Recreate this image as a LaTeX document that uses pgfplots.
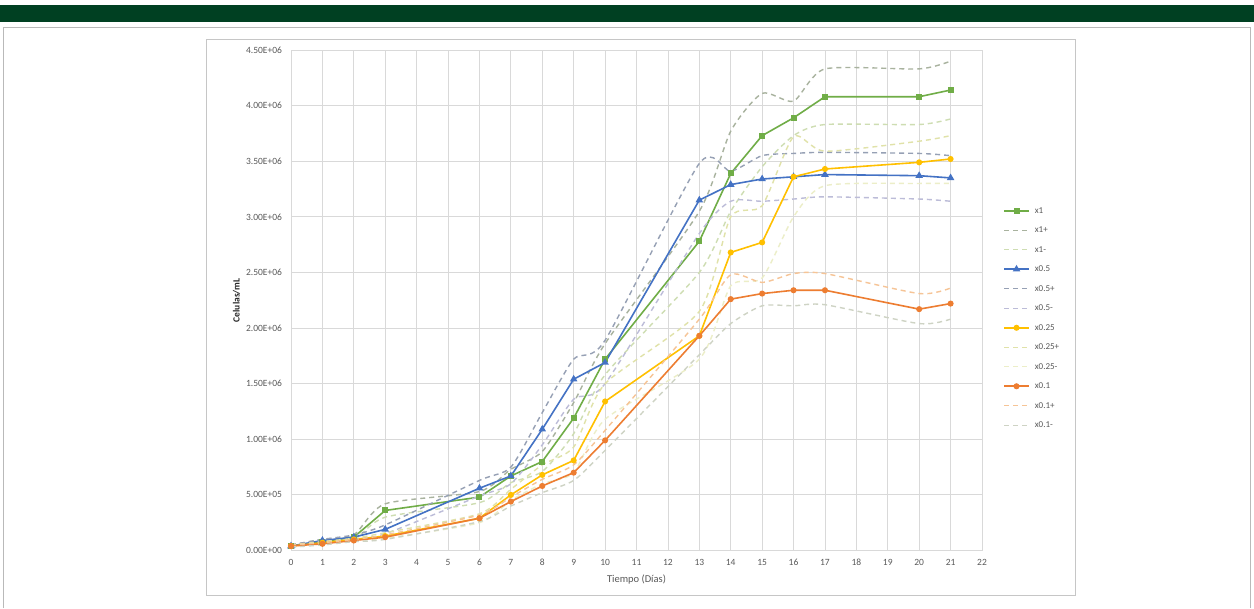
\documentclass[border=0pt]{standalone}
\usepackage{fontspec}
\setmainfont{Carlito}
\usepackage{pgfplots}
\usepackage{pgfplotstable}
\pgfplotsset{compat=1.18}
\definecolor{bar}{RGB}{0,64,34}
\definecolor{gridc}{RGB}{217,217,217}
\definecolor{tickc}{RGB}{89,89,89}
\definecolor{cG}{RGB}{112,173,71}
\definecolor{cGp}{RGB}{168,178,158}
\definecolor{cGm}{RGB}{206,221,178}
\definecolor{cB}{RGB}{68,114,196}
\definecolor{cBp}{RGB}{150,160,180}
\definecolor{cBm}{RGB}{188,188,216}
\definecolor{cY}{RGB}{255,192,0}
\definecolor{cYp}{RGB}{224,226,168}
\definecolor{cYm}{RGB}{236,238,200}
\definecolor{cO}{RGB}{237,125,49}
\definecolor{cOp}{RGB}{246,196,150}
\definecolor{cOm}{RGB}{206,211,196}
\pgfplotstableread{
dia x1 x1p x1m x05 x05p x05m x025 x025p x025m x01 x01p x01m
0  0.04e6 0.05e6 0.03e6 0.04e6 0.05e6 0.03e6 0.04e6 0.05e6 0.03e6 0.04e6 0.05e6 0.03e6
1  0.08e6 0.10e6 0.07e6 0.09e6 0.10e6 0.08e6 0.07e6 0.08e6 0.06e6 0.06e6 0.07e6 0.05e6
2  0.12e6 0.14e6 0.10e6 0.12e6 0.14e6 0.10e6 0.10e6 0.11e6 0.09e6 0.09e6 0.10e6 0.08e6
3  0.36e6 0.42e6 0.30e6 0.19e6 0.23e6 0.15e6 0.13e6 0.16e6 0.11e6 0.12e6 0.14e6 0.10e6
6  0.48e6 0.53e6 0.43e6 0.56e6 0.63e6 0.49e6 0.29e6 0.33e6 0.25e6 0.29e6 0.32e6 0.26e6
7  0.67e6 0.73e6 0.61e6 0.67e6 0.75e6 0.60e6 0.50e6 0.55e6 0.45e6 0.44e6 0.48e6 0.40e6
8  0.80e6 0.89e6 0.71e6 1.09e6 1.24e6 0.95e6 0.68e6 0.77e6 0.60e6 0.58e6 0.64e6 0.52e6
9  1.19e6 1.33e6 1.05e6 1.54e6 1.72e6 1.36e6 0.81e6 0.93e6 0.70e6 0.70e6 0.77e6 0.63e6
10 1.72e6 1.86e6 1.58e6 1.69e6 1.89e6 1.50e6 1.34e6 1.50e6 1.18e6 0.99e6 1.08e6 0.90e6
13 2.78e6 3.05e6 2.50e6 3.15e6 3.48e6 2.85e6 1.93e6 2.15e6 1.72e6 1.93e6 2.08e6 1.76e6
14 3.39e6 3.77e6 3.05e6 3.29e6 3.41e6 3.14e6 2.68e6 3.00e6 2.38e6 2.26e6 2.48e6 2.04e6
15 3.73e6 4.11e6 3.45e6 3.34e6 3.55e6 3.14e6 2.77e6 3.10e6 2.45e6 2.31e6 2.41e6 2.20e6
16 3.89e6 4.04e6 3.73e6 3.36e6 3.57e6 3.16e6 3.36e6 3.72e6 3.00e6 2.34e6 2.49e6 2.20e6
17 4.08e6 4.33e6 3.83e6 3.38e6 3.58e6 3.18e6 3.43e6 3.59e6 3.28e6 2.34e6 2.49e6 2.21e6
20 4.08e6 4.33e6 3.83e6 3.37e6 3.57e6 3.16e6 3.49e6 3.68e6 3.30e6 2.17e6 2.31e6 2.04e6
21 4.14e6 4.40e6 3.88e6 3.35e6 3.55e6 3.14e6 3.52e6 3.73e6 3.30e6 2.22e6 2.36e6 2.08e6
}\datos
\begin{document}
\begin{tikzpicture}[x=1pt,y=1pt]
\fill[white] (0,0) rectangle (1254,608);
\fill[bar] (0,585.5) rectangle (1254,603);
\draw[gray!55, line width=1pt] (3.5,0) -- (3.5,580) -- (1250.5,580) -- (1250.5,0);
\draw[gray!45, line width=0.8pt] (206,13) rectangle (1075,569);
\begin{axis}[
  at={(291pt,57.5pt)}, anchor=south west,
  scale only axis, width=691pt, height=500.5pt,
  xmin=0, xmax=22, ymin=0, ymax=4500000,
  xtick={0,1,...,22},
  ytick={0,500000,1000000,1500000,2000000,2500000,3000000,3500000,4000000,4500000},
  yticklabels={0.00E+00,5.00E+05,1.00E+06,1.50E+06,2.00E+06,2.50E+06,3.00E+06,3.50E+06,4.00E+06,4.50E+06},
  scaled y ticks=false,
  /pgf/number format/assume math mode=true,
  grid=major,
  major grid style={draw=gridc, line width=0.8pt},
  axis line style={draw=gridc, line width=0.8pt},
  major tick length=0pt,
  tick label style={font=\fontsize{9.5}{11}\selectfont, text=tickc},
  xticklabel style={yshift=-5pt},
  yticklabel style={xshift=-5.5pt},
  xlabel={Tiempo (Días)},
  x label style={at={(axis description cs:0.5,-0.057)}, anchor=center, font=\fontsize{10.5}{12}\selectfont, text=tickc},
  ylabel={Celulas/mL},
  y label style={at={(axis description cs:-0.0789,0.5)}, anchor=center, font=\bfseries\fontsize{9.5}{11}\selectfont, text=black!85},
  legend style={at={(axis description cs:1.0304,0.4645)}, anchor=west, draw=none, fill=none,
    font=\fontsize{9}{10}\selectfont, text=tickc, row sep=10.5pt, column sep=5pt, inner sep=0pt,
    nodes={inner sep=0pt, text height=7pt, text depth=2pt}},
  legend cell align=left,
  legend image code/.code={\draw[mark repeat=2,mark phase=2,#1] plot coordinates {(0pt,0pt) (12.5pt,0pt) (25pt,0pt)};},
  solid/.style={line width=1.6pt, mark options={solid}},
  dsh/.style={line width=1.4pt, dash pattern=on 5pt off 4pt, smooth, tension=0.4, no markers},
]
\addplot[solid, cG, mark=square*, mark size=2.2pt] table[x=dia,y=x1] {\datos};
\addlegendentry{x1}
\addplot[dsh, cGp] table[x=dia,y=x1p] {\datos};
\addlegendentry{x1+}
\addplot[dsh, cGm] table[x=dia,y=x1m] {\datos};
\addlegendentry{x1-}
\addplot[solid, cB, mark=triangle*, mark size=2.8pt] table[x=dia,y=x05] {\datos};
\addlegendentry{x0.5}
\addplot[dsh, cBp] table[x=dia,y=x05p] {\datos};
\addlegendentry{x0.5+}
\addplot[dsh, cBm] table[x=dia,y=x05m] {\datos};
\addlegendentry{x0.5-}
\addplot[solid, cY, mark=*, mark size=2.2pt] table[x=dia,y=x025] {\datos};
\addlegendentry{x0.25}
\addplot[dsh, cYp] table[x=dia,y=x025p] {\datos};
\addlegendentry{x0.25+}
\addplot[dsh, cYm] table[x=dia,y=x025m] {\datos};
\addlegendentry{x0.25-}
\addplot[solid, cO, mark=*, mark size=2.2pt] table[x=dia,y=x01] {\datos};
\addlegendentry{x0.1}
\addplot[dsh, cOp] table[x=dia,y=x01p] {\datos};
\addlegendentry{x0.1+}
\addplot[dsh, cOm] table[x=dia,y=x01m] {\datos};
\addlegendentry{x0.1-}
\end{axis}
\end{tikzpicture}
\end{document}
